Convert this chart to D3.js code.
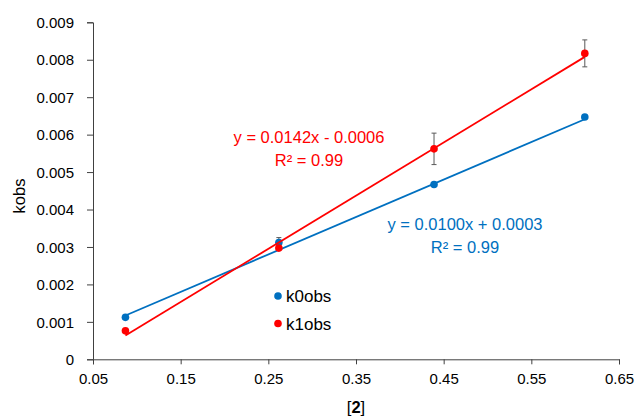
<!DOCTYPE html>
<html><head><meta charset="utf-8">
<script src="https://cdn.jsdelivr.net/npm/d3@7"></script>
<style>body{margin:0;background:#fff;} text{font-family:"Liberation Sans",Arial,sans-serif;}</style>
</head><body><svg id="c" width="635" height="417"></svg>
<script>
const xVals = [0.087, 0.262, 0.439, 0.611];
const k0obs = [0.00112, 0.00312, 0.00467, 0.00647];
const k1obs = [0.00076, 0.00297, 0.00562, 0.00817];
const k0err = [0, 0.00013, 0, 0];
const k1err = [0, 0, 0.00042, 0.00036];
const k0fit = {slope: 0.0100, intercept: 0.0003, eq: "y = 0.0100x + 0.0003", r2: "R² = 0.99"};
const k1fit = {slope: 0.0142, intercept: -0.0006, eq: "y = 0.0142x - 0.0006", r2: "R² = 0.99"};
const xTicks = [0.05, 0.15, 0.25, 0.35, 0.45, 0.55, 0.65];
const yTicks = [0, 0.001, 0.002, 0.003, 0.004, 0.005, 0.006, 0.007, 0.008, 0.009];

const svg = d3.select("#c");
const x = d3.scaleLinear().domain([0.05, 0.65]).range([93, 619]);
const y = d3.scaleLinear().domain([0, 0.009]).range([359.3, 22.3]);
const axisCol = "#404040";

const xa = svg.append("g").attr("transform","translate(0,359.3)")
  .call(d3.axisBottom(x).tickValues(xTicks).tickFormat(d3.format(".2f")).tickSizeOuter(0).tickSize(5).tickPadding(9));
const ya = svg.append("g").attr("transform","translate(93,0)")
  .call(d3.axisLeft(y).tickValues(yTicks).tickFormat(d => d===0 ? "0" : d3.format(".3f")(d)).tickSizeOuter(0).tickSize(6).tickPadding(13));
[xa, ya].forEach(a => {
  a.selectAll("path,line").attr("stroke", axisCol).attr("stroke-width", 1);
  a.selectAll("text").attr("fill", "#000").attr("font-size", 15).attr("font-family", "Liberation Sans, Arial, sans-serif");
});
ya.selectAll("text").attr("dy", "0.35em");

svg.append("text").attr("transform","translate(25,196) rotate(-90)").attr("text-anchor","middle")
  .attr("font-size",16.5).text("kobs");
const xl = svg.append("text").attr("x",356).attr("y",413).attr("text-anchor","middle").attr("font-size",16.5);
xl.append("tspan").text("[");
xl.append("tspan").attr("font-weight","bold").text("2");
xl.append("tspan").text("]");

function series(vals, errs, fit, color) {
  const x0 = d3.min(xVals), x1 = d3.max(xVals);
  svg.append("line").attr("x1", x(x0)).attr("x2", x(x1))
    .attr("y1", y(fit.slope*x0 + fit.intercept)).attr("y2", y(fit.slope*x1 + fit.intercept))
    .attr("stroke", color).attr("stroke-width", 1.8);
  const g = svg.append("g");
  xVals.forEach((xv, i) => {
    if (errs[i] > 0) {
      const cx = x(xv);
      g.append("line").attr("x1",cx).attr("x2",cx).attr("y1",y(vals[i]-errs[i])).attr("y2",y(vals[i]+errs[i])).attr("stroke","#595959").attr("stroke-width",1);
      [vals[i]-errs[i], vals[i]+errs[i]].forEach(e => g.append("line").attr("x1",cx-2.5).attr("x2",cx+2.5).attr("y1",y(e)).attr("y2",y(e)).attr("stroke","#595959").attr("stroke-width",1));
    }
  });
  xVals.forEach((xv, i) => g.append("circle").attr("cx", x(xv)).attr("cy", y(vals[i])).attr("r", 3.8).attr("fill", color));
}
series(k0obs, k0err, k0fit, "#0070C0");
series(k1obs, k1err, k1fit, "#FF0000");

function label(fit, cx, by, color) {
  svg.append("text").attr("x",cx).attr("y",by).attr("text-anchor","middle").attr("font-size",16.5).attr("fill",color).text(fit.eq);
  svg.append("text").attr("x",cx).attr("y",by+22.5).attr("text-anchor","middle").attr("font-size",16.5).attr("fill",color).text(fit.r2);
}
label(k1fit, 309, 143, "#FF0000");
label(k0fit, 465, 230, "#0070C0");

const legend = [{name:"k0obs", color:"#0070C0"}, {name:"k1obs", color:"#FF0000"}];
legend.forEach((d, i) => {
  const ly = 296 + i*27.5;
  svg.append("circle").attr("cx",278).attr("cy",ly).attr("r",3.8).attr("fill",d.color);
  svg.append("text").attr("x",286).attr("y",ly+6).attr("font-size",17).text(d.name);
});
</script></body></html>
